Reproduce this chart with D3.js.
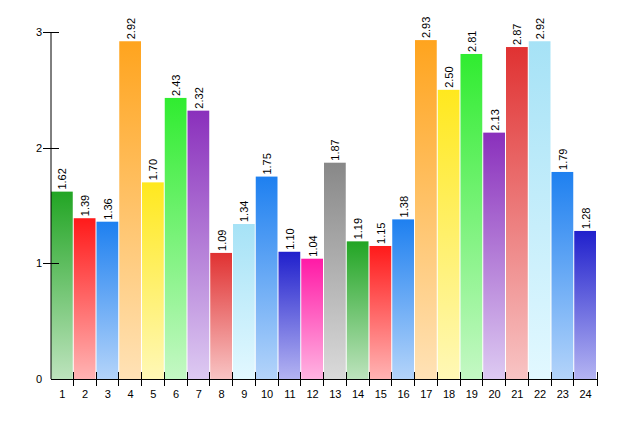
<!DOCTYPE html>
<html><head><meta charset="utf-8">
<script src="https://cdn.jsdelivr.net/npm/d3@7"></script>
<style>body{margin:0;background:#fff}svg{display:block}text{font-family:"Liberation Sans",Arial,sans-serif;font-size:11px;fill:#000}</style>
</head><body>
<svg id="c" width="641" height="426"></svg>
<script>
const categories = ["1","2","3","4","5","6","7","8","9","10","11","12","13","14","15","16","17","18","19","20","21","22","23","24"];
const values = [1.62,1.39,1.36,2.92,1.70,2.43,2.32,1.09,1.34,1.75,1.10,1.04,1.87,1.19,1.15,1.38,2.93,2.50,2.81,2.13,2.87,2.92,1.79,1.28];
const yTicks = [0,1,2,3];
const topColors = ["#22a524","#ff1a1a","#1e80f0","#ffa41e","#ffe81e","#30ec30","#8a30bc","#e03232","#a6e2f6","#1e80f0","#2020cc","#ff1aa6","#888888"];
const bottomColors = ["#bde3bd","#ffb4b4","#b4d4fa","#ffe2b6","#fff8b6","#c4f8c4","#ddcaf2","#f8c4c4","#e2f8ff","#b4d4fa","#b4b4f2","#ffb4e2","#dadada"];

const svg = d3.select("#c");
const x0 = 51, x1 = 597, yTop = 32, yBot = 379;
const x = d3.scaleBand().domain(categories).range([x0, x1]).paddingInner(0).paddingOuter(0);
const y = d3.scaleLinear().domain([0,3]).range([yBot, yTop]);

const defs = svg.append("defs");
topColors.forEach((c,i)=>{
  const g = defs.append("linearGradient").attr("id","g"+i).attr("x1",0).attr("y1",0).attr("x2",0).attr("y2",1);
  g.append("stop").attr("offset","0%").attr("stop-color",c);
  g.append("stop").attr("offset","100%").attr("stop-color",bottomColors[i]);
});

svg.selectAll("rect.bar").data(values).enter().append("rect")
  .attr("class","bar")
  .attr("x",(d,i)=>x(categories[i]))
  .attr("width",x.bandwidth()-1)
  .attr("y",d=>y(d))
  .attr("height",d=>yBot-y(d))
  .attr("fill",(d,i)=>`url(#g${i%topColors.length})`);

svg.selectAll("text.val").data(values).enter().append("text")
  .attr("class","val")
  .attr("transform",(d,i)=>`translate(${x(categories[i])+x.bandwidth()/2+4},${y(d)-2}) rotate(-90)`)
  .text(d=>d.toFixed(2));

// axes
svg.append("line").attr("x1",x0).attr("x2",x0).attr("y1",yTop).attr("y2",yBot).attr("stroke","#000");
svg.append("line").attr("x1",x0).attr("x2",x1+0.5).attr("y1",yBot+0.5).attr("y2",yBot+0.5).attr("stroke","#000");

yTicks.forEach(t=>{
  if(t>0) svg.append("line").attr("x1",x0-8).attr("x2",x0+8).attr("y1",Math.round(y(t))+0.5).attr("y2",Math.round(y(t))+0.5).attr("stroke","#000");
  svg.append("text").attr("x",x0-9).attr("y",y(t)+4).attr("text-anchor","end").text(t);
});

categories.forEach((c,i)=>{
  if(i>0){
    const bx = Math.round(x(c))-0.5;
    svg.append("line").attr("x1",bx).attr("x2",bx).attr("y1",yBot-7).attr("y2",yBot+7).attr("stroke","#000");
  }
  svg.append("text").attr("x",x(c)+x.bandwidth()/2).attr("y",yBot+19).attr("text-anchor","middle").text(c);
});
svg.append("line").attr("x1",x1+0.5).attr("x2",x1+0.5).attr("y1",yBot-7).attr("y2",yBot+7).attr("stroke","#000");
</script>
</body></html>
